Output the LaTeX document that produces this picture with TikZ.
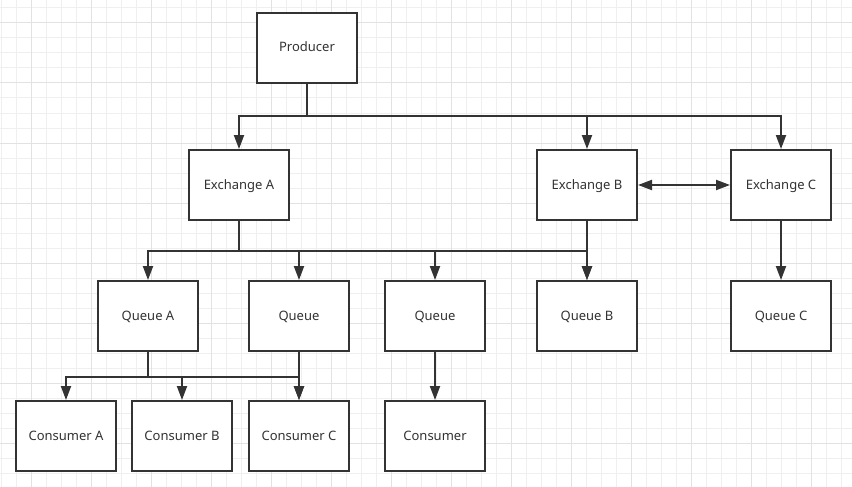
\documentclass[tikz,border=0pt]{standalone}
\usepackage{fontspec}
\setmainfont{Noto Sans}
\usetikzlibrary{arrows.meta}
\definecolor{linec}{HTML}{333333}
\definecolor{txt}{HTML}{333333}
\definecolor{gridminor}{HTML}{EFEFEF}
\definecolor{gridmajor}{HTML}{E2E2E2}
\begin{document}
\begin{tikzpicture}[x=1pt,y=-1pt,
  box/.style={draw=linec, line width=2pt, minimum width=100pt, minimum height=70pt, inner sep=0pt, text height=10pt, text depth=2pt, fill=white, text=txt, font=\fontsize{13}{15}\selectfont},
  tip/.style={Triangle[length=14pt,width=10pt]},
  arr/.style={draw=linec, line width=2pt, -{Triangle[length=14pt,width=10pt]}},
  darr/.style={draw=linec, line width=2pt, {Triangle[length=14pt,width=10pt]}-{Triangle[length=14pt,width=10pt]}}]
\useasboundingbox (0,0) rectangle (852,487);
\fill[white] (0,0) rectangle (852,487);
\foreach \x in {1,16,...,852} \draw[gridminor, line width=1pt] (\x,0) -- (\x,487);
\foreach \y in {8,23,...,487} \draw[gridminor, line width=1pt] (0,\y) -- (852,\y);
\foreach \x in {31,91,...,852} \draw[gridmajor, line width=1pt] (\x,0) -- (\x,487);
\foreach \y in {23,83,...,487} \draw[gridmajor, line width=1pt] (0,\y) -- (852,\y);

\node[box] (prod) at (307,48) {Producer};
\node[box] (exA) at (239,185) {Exchange A};
\node[box] (exB) at (587,185) {Exchange B};
\node[box] (exC) at (781,185) {Exchange C};
\node[box] (qA) at (148,316) {Queue A};
\node[box] (q1) at (299,316) {Queue};
\node[box] (q2) at (435,316) {Queue};
\node[box] (qB) at (587,316) {Queue B};
\node[box] (qC) at (781,316) {Queue C};
\node[box] (cA) at (66,436) {Consumer A};
\node[box] (cB) at (182,436) {Consumer B};
\node[box] (cC) at (299,436) {Consumer C};
\node[box] (c) at (435,436) {Consumer};

\foreach \t in {exA,exB,exC} \draw[arr] (prod.south) -- ++(0,32) -| (\t.north);
\foreach \t in {qA,q1,q2,qB} \draw[arr] (exA.south) -- ++(0,30) -| (\t.north);
\draw[arr] (exB.south) -- (qB.north);
\draw[darr] (exB.east) -- (exC.west);
\draw[arr] (exC.south) -- (qC.north);
\foreach \t in {cA,cB,cC} \draw[arr] (qA.south) -- ++(0,25) -| (\t.north);
\draw[arr] (q1.south) -- (cC.north);
\draw[arr] (q2.south) -- (c.north);
\end{tikzpicture}
\end{document}
